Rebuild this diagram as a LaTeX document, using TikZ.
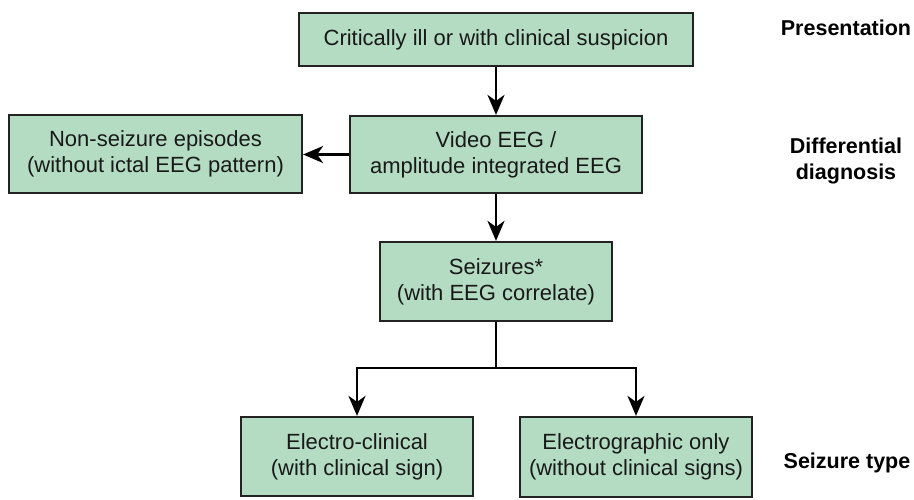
\documentclass[tikz,border=0pt]{standalone}
\usepackage{fontspec}
\setmainfont{Liberation Sans}
\usetikzlibrary{arrows.meta}
\definecolor{boxfill}{RGB}{180,220,195}
\definecolor{boxline}{RGB}{35,35,35}
\begin{document}
\begin{tikzpicture}[x=1pt,y=-1pt,
  box/.style={draw=boxline, line width=2.2pt, fill=boxfill, rectangle, inner sep=0pt,
    align=center, font=\fontsize{22}{26}\selectfont, text=black!90},
  conn/.style={line width=2.3pt, draw=black, -{Stealth[length=20pt,width=17pt,inset=6pt]}},
  line/.style={line width=2.3pt, draw=black},
  stage/.style={font=\fontsize{21.5}{26}\selectfont\bfseries, align=center}]
\useasboundingbox (0,0) rectangle (914,500);
\node[box, minimum width=394pt, minimum height=53pt] (crit) at (496,39.5) {Critically ill or with clinical suspicion};
\node[box, minimum width=292pt, minimum height=77pt] (veeg) at (496,154.5) {Video EEG /\\amplitude integrated EEG};
\node[box, minimum width=293pt, minimum height=78pt] (nonsz) at (155.5,154) {Non-seizure episodes\\(without ictal EEG pattern)};
\node[box, minimum width=232pt, minimum height=79pt] (sz) at (496,281.5) {Seizures*\\(with EEG correlate)};
\node[box, minimum width=232pt, minimum height=79pt] (ec) at (357,456.5) {Electro-clinical\\(with clinical sign)};
\node[box, minimum width=232pt, minimum height=80pt] (eg) at (636,457) {Electrographic only\\(without clinical signs)};
\node[stage] (p1) at (846,28) {Presentation};
\node[stage] (p2) at (846,161) {Differential\\diagnosis};
\node[stage] (p3) at (847,463) {Seizure type};
\coordinate (split) at (496,368);
\draw[conn] (crit.south) -- (veeg.north);
\draw[conn] (veeg.west) -- (veeg.west -| nonsz.east);
\draw[conn] (veeg.south) -- (sz.north);
\draw[line] (sz.south) -- (split);
\draw[conn] (split) -| (ec.north);
\draw[conn] (split) -| (eg.north);
\end{tikzpicture}
\end{document}
